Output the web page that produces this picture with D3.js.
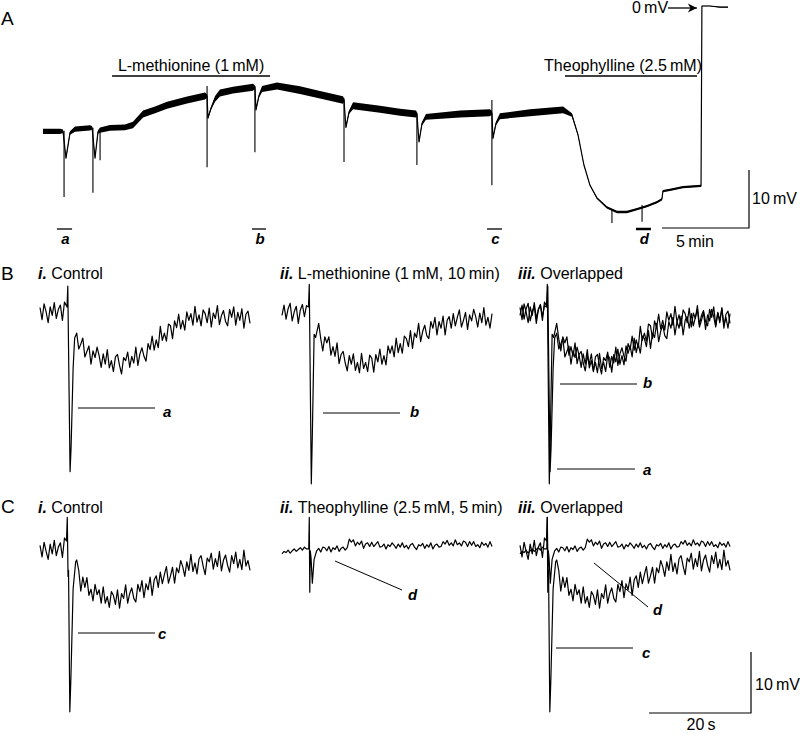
<!DOCTYPE html>
<html>
<head>
<meta charset="utf-8">
<script src="https://cdn.jsdelivr.net/npm/d3@7"></script>
<style>
  body { margin: 0; background: #fff; }
  text { font-family: "Liberation Sans", Arial, sans-serif; fill: #000; }
  .trace { fill: none; stroke: #000; stroke-width: 1.2; stroke-linejoin: round; }
  .bar { stroke: #000; stroke-width: 1.3; }
  .lab { font-weight: bold; font-style: italic; font-size: 15px; }
</style>
</head>
<body>
<svg id="fig" width="800" height="734"></svg>
<script>
'use strict';

// ---- panel A: continuous recording (t in min, membrane potential in mV, noise half-width in mV)
var aTrace = [
  [0, -21.6, 0.45], [0.98, -21.6, 0.45], [1.15, -21.6, 0.3], [1.32, -26.2, 0.2], [1.55, -21.9, 0.3],
  [1.84, -21.2, 0.45], [2.70, -21.0, 0.45], [2.82, -21.0, 0.3], [2.99, -26.2, 0.2], [3.16, -21.7, 0.3],
  [3.28, -21.4, 0.45], [3.85, -21.0, 0.5], [4.71, -20.9, 0.5], [5.17, -20.5, 0.55], [5.75, -18.6, 0.6],
  [6.44, -17.9, 0.6], [7.13, -17.1, 0.6], [8.28, -16.2, 0.6], [9.31, -15.5, 0.6], [9.43, -15.5, 0.3],
  [9.48, -19.3, 0.2], [9.66, -17.6, 0.3], [9.89, -16.0, 0.5], [10.17, -15.0, 0.6], [10.92, -14.5, 0.6],
  [12.07, -14.0, 0.6], [12.18, -14.0, 0.3], [12.24, -17.9, 0.2], [12.41, -15.5, 0.3], [12.59, -14.3, 0.5],
  [13.45, -13.8, 0.6], [14.77, -14.5, 0.65], [15.92, -15.3, 0.65], [17.24, -16.2, 0.65], [17.30, -16.2, 0.3],
  [17.41, -20.9, 0.2], [17.59, -18.3, 0.3], [17.82, -17.2, 0.6], [19.37, -17.8, 0.6], [20.52, -18.3, 0.6],
  [21.44, -18.6, 0.6], [21.49, -18.6, 0.3], [21.61, -23.4, 0.2], [21.78, -20.3, 0.3], [22.01, -19.1, 0.5],
  [23.97, -18.6, 0.6], [25.69, -18.4, 0.6], [25.80, -18.4, 0.3], [25.86, -22.8, 0.2], [26.03, -20.3, 0.3],
  [26.26, -19.0, 0.5], [27.99, -18.4, 0.6], [29.89, -17.9, 0.6], [30.40, -18.8, 0.3], [30.75, -22.2, 0.15],
  [31.09, -27.4, 0.1], [31.44, -30.9, 0.1], [31.84, -33.1, 0.15], [32.41, -34.7, 0.2], [32.99, -35.5, 0.2],
  [33.56, -35.5, 0.2], [34.14, -35.0, 0.2], [34.71, -34.5, 0.2], [35.29, -33.8, 0.2], [35.57, -33.3, 0.2],
  [35.63, -31.9, 0.2], [36.03, -31.7, 0.2], [36.78, -31.2, 0.2], [37.82, -31.0, 0.2], [37.87, 0, 0.05],
  [38.33, 0, 0.05], [38.91, -0.2, 0.05], [39.37, -0.2, 0.05]
];
// stimulus artefacts in A: [t, top mV, bottom mV]
var aArtefacts = [
  [1.21, -21.5, -32.9], [2.87, -21.0, -32.2], [3.28, -21.2, -26.6], [9.43, -13.8, -27.8],
  [12.18, -13.8, -25.2], [17.30, -15.9, -26.9], [21.49, -18.4, -27.4], [25.80, -16.2, -30.9],
  [32.70, -35.0, -37.4], [34.43, -34.3, -37.2]
];
var drugNames = ['L-methionine (1\u2009mM)', 'Theophylline (2.5\u2009mM)'];
var drugStart = [3.97, 30.0];
var drugEnd = [13.05, 37.59];
var sampleLabels = ['a', 'b', 'c', 'd'];
var sampleStart = [0.80, 12.01, 25.52, 34.08];
var sampleEnd = [1.67, 12.82, 26.38, 34.94];

// ---- panels B and C: single sweeps (t in s, mV relative to baseline), sampled every DT s
var DT = 0.4;
var aPre = [0.9, -1.1, 1.5, 0.2, -1.6, 1.0, -0.4, 1.7, -0.9, 0.6, 1.3, -1.2, 1.8];
var aStim = [[5.3, 1.0], [5.45, 4.4], [5.9, -26.0], [6.1, -22], [6.5, -9], [6.8, -4.1]];
var aPostStart = 7.2;
var aPost = [-3.3, -5.9, -5.1, -4.1, -7.2, -6.3, -5.4, -8.4, -6.2, -7.3, -5.6, -7.0, -8.9, -6.7, -8.4, -6.0,
  -9.0, -7.8, -9.6, -7.2, -6.8, -8.6, -10.0, -7.3, -7.8, -6.4, -8.9, -7.1, -8.2, -5.6, -8.6, -6.7, -5.7, -7.1,
  -7.9, -5.0, -6.0, -3.8, -6.1, -4.4, -5.7, -2.2, -4.5, -3.3, -4.6, -1.8, -2.1, -4.2, -1.3, -2.4, -0.2, -2.6,
  -1.2, -2.8, 0.2, -1.2, -0.1, -2.0, 1.1, -1.5, -0.3, -2.1, 0.5, -0.1, -1.6, 0.8, -2.3, 0.0, -0.9, 1.2, -1.9,
  -0.4, 0.4, -1.4, -2.1, 0.6, -0.7, 1.0, -2.0, 0.1, -1.2, 0.7, -2.5, -0.2, 0.3, -1.7];

var bPre = [-0.4, 1.3, -1.0, 0.7, 1.6, -1.3, 0.2, 1.1, -1.7, 0.5, 1.4, -0.6, 1.2];
var bStim = [[5.2, 1.0], [5.35, 4.7], [5.75, -28.0], [5.95, -20], [6.3, -3.5], [6.6, -4.0]];
var bPostStart = 7.2;
var bPost = [-1.7, -4.2, -6.2, -3.9, -4.9, -3.9, -6.9, -5.5, -7.1, -4.9, -8.3, -6.8, -6.3, -8.2, -9.5, -7.0,
  -8.4, -6.7, -9.4, -8.1, -9.8, -6.6, -9.1, -8.1, -9.6, -6.9, -7.4, -9.7, -6.8, -8.0, -5.9, -8.4, -7.0, -8.5,
  -5.4, -6.6, -5.4, -7.2, -4.1, -6.5, -5.0, -6.6, -3.8, -4.2, -5.5, -2.9, -5.8, -3.3, -4.0, -1.7, -4.7, -3.0,
  -2.0, -3.7, -4.2, -1.4, -2.5, -0.7, -3.6, -1.4, -2.5, -0.5, -3.6, -1.2, -0.6, -2.5, -0.1, -2.1, -0.7, 0.5,
  -2.3, -1.2, 0.1, -2.7, -0.3, -1.3, 0.6, -0.6, -2.3, 0.0, -1.6, 0.9, -2.0, -0.7, -2.5, -0.1];

var cPre = [1.1, -0.8, 1.6, 0.1, -1.2, 1.3, -0.3, 1.9, -0.6, 0.8, 1.5, -0.9, 2.3];
var cStim = [[5.2, 1.8], [5.35, 5.7], [5.5, -4], [5.6, -3], [5.85, -26.2], [6.05, -21], [6.5, -6], [7.0, -1.6]];
var cPostStart = 7.2;
var cPost = [-1.3, -3.0, -6.4, -4.1, -5.8, -4.2, -7.1, -6.1, -8.0, -5.3, -7.0, -6.2, -8.4, -5.7, -8.4, -7.3,
  -9.1, -6.5, -7.1, -8.6, -6.2, -9.2, -6.8, -7.6, -5.4, -8.4, -6.8, -5.9, -7.6, -8.2, -5.3, -6.5, -4.7, -7.5,
  -5.2, -6.2, -4.1, -7.1, -4.6, -3.9, -5.8, -3.3, -5.2, -3.7, -2.4, -5.1, -3.9, -2.5, -5.1, -2.6, -3.4, -1.4,
  -2.4, -4.0, -1.6, -3.0, -0.4, -3.2, -1.8, -3.6, -1.1, -0.6, -2.3, -3.7, -1.0, -1.6, -0.2, -2.8, -1.1, -2.4,
  0.1, -3.1, -1.3, -0.5, -2.2, -3.3, -0.6, -1.9, 0.0, -2.6, -1.2, -2.9, 0.3, -2.3, -1.4, -3.0];

var dPre = [-0.3, 0.1, -0.1, 0.3, -0.2, 0.2, 0.5, 0.1, 0.4, 0.7, 0.3, 0.8, 0.5];
var dStim = [[5.25, 0.5], [5.35, 5.7], [5.45, -6.6], [5.55, 0.2], [5.7, -1], [5.95, -5.1], [6.3, -1.2], [6.8, 0.2]];
var dPostStart = 7.2;
var dPost = [0.6, 0.0, 0.8, 0.7, 0.2, 0.9, 0.0, 0.7, 0.4, 1.0, 0.1, 0.6, 0.8, 0.3, 0.7, 2.1, 1.6, 2.0, 1.0,
  1.6, 1.2, 1.8, 0.6, 1.3, 1.5, 0.9, 1.6, 0.9, 1.3, 1.7, 0.8, 0.9, 1.3, 0.5, 1.2, 0.9, 1.5, 1.1, 0.6, 1.3,
  0.8, 1.5, 0.7, 1.1, 0.5, 1.2, 1.4, 0.8, 0.4, 1.2, 1.0, 1.4, 0.6, 1.2, 0.8, 1.5, 0.5, 1.1, 1.3, 0.8, 0.9,
  1.7, 1.3, 1.9, 1.1, 1.5, 1.0, 2.0, 1.2, 1.5, 1.0, 1.8, 1.6, 0.9, 1.7, 1.1, 1.7, 0.9, 1.2, 0.7, 1.6, 1.1,
  1.4, 0.8, 1.7, 0.9];


function buildTrace(pre, stim, post, postStart) {
    var pts = pre.map(function(v, i) { return [i * DT, v]; });
    stim.forEach(function(p) { pts.push(p); });
    post.forEach(function(v, i) { pts.push([postStart + i * DT, v]); });
    return pts;
}

var traces = {
    a: buildTrace(aPre, aStim, aPost, aPostStart),
    b: buildTrace(bPre, bStim, bPost, bPostStart),
    c: buildTrace(cPre, cStim, cPost, cPostStart),
    d: buildTrace(dPre, dStim, dPost, dPostStart)
};

var svg = d3.select('#fig');

// ================= A =================
var xA = d3.scaleLinear().domain([0, 39.37]).range([43, 728]);
var yA = d3.scaleLinear().domain([-35.5, 0]).range([212, 6]);

svg.append('text').attr('x', 1).attr('y', 25).style('font-size', '19px').text('A');

var bandA = d3.area()
    .x(function(d) { return xA(d[0]); })
    .y0(function(d) { return yA(d[1] - d[2]); })
    .y1(function(d) { return yA(d[1] + d[2]); });
var lineA = d3.line()
    .x(function(d) { return xA(d[0]); })
    .y(function(d) { return yA(d[1]); });

svg.append('path').datum(aTrace).attr('d', bandA).attr('fill', '#000');
svg.append('path').datum(aTrace).attr('class', 'trace').attr('d', lineA);

svg.append('g').selectAll('line').data(aArtefacts).enter().append('line')
    .attr('x1', function(d) { return xA(d[0]); })
    .attr('x2', function(d) { return xA(d[0]); })
    .attr('y1', function(d) { return yA(d[1]); })
    .attr('y2', function(d) { return yA(d[2]); })
    .attr('stroke', '#000').attr('stroke-width', 1.1);

// drug application bars
drugNames.forEach(function(name, i) {
    svg.append('line').attr('class', 'bar')
        .attr('x1', xA(drugStart[i])).attr('x2', xA(drugEnd[i]))
        .attr('y1', 76).attr('y2', 76);
    var t = svg.append('text').attr('y', 71).style('font-size', '16px').text(name);
    if (i === 0) {
        t.attr('x', (xA(drugStart[i]) + xA(drugEnd[i])) / 2).attr('text-anchor', 'middle');
    } else {
        t.attr('x', xA(drugEnd[i]) + 5).attr('text-anchor', 'end');
    }
});

// sample windows a-d
sampleLabels.forEach(function(lab, i) {
    svg.append('line')
        .attr('x1', xA(sampleStart[i])).attr('x2', xA(sampleEnd[i]))
        .attr('y1', 229).attr('y2', 229)
        .attr('stroke', '#000').attr('stroke-width', lab === 'd' ? 2.5 : 1.3);
    svg.append('text').attr('class', 'lab')
        .attr('x', (xA(sampleStart[i]) + xA(sampleEnd[i])) / 2 + 1).attr('y', 244)
        .attr('text-anchor', 'middle').text(lab);
});

// 0 mV marker
svg.append('defs').append('marker')
    .attr('id', 'arr').attr('viewBox', '0 0 10 10').attr('refX', 10).attr('refY', 5)
    .attr('markerWidth', 9).attr('markerHeight', 7).attr('orient', 'auto')
    .append('path').attr('d', 'M0,0 L10,5 L0,10 L3,5 Z').attr('fill', '#000');
svg.append('text').attr('x', 632).attr('y', 13).style('font-size', '16px').text('0\u2009mV');
svg.append('line').attr('x1', 668).attr('x2', xA(37.87) - 5).attr('y1', yA(0) + 2).attr('y2', yA(0) + 2)
    .attr('stroke', '#000').attr('stroke-width', 1.3).attr('marker-end', 'url(#arr)');

// scale bar A: 10 mV, 5 min
var sbAx = 749, sbAy = 228;
svg.append('path').attr('class', 'trace')
    .attr('d', 'M' + (sbAx - (xA(5) - xA(0))) + ',' + sbAy + 'H' + sbAx + 'V' + (sbAy - (yA(0) - yA(10))));
svg.append('text').attr('x', 752).attr('y', 204).style('font-size', '16px').text('10\u2009mV');
svg.append('text').attr('x', 695).attr('y', 247).attr('text-anchor', 'middle')
    .style('font-size', '16px').text('5\u2009min');

// ================= B and C =================
var xS = d3.scaleLinear().domain([0, 41]).range([0, 209]);
var yS = d3.scaleLinear().domain([-10, 0]).range([61, 0]);
var lineS = d3.line()
    .x(function(d) { return xS(d[0]); })
    .y(function(d) { return yS(d[1]); });

var colX = [40, 282, 520];
var rows = [
    { letter: 'B', ly: 280, ty: 279, y0: 313,
      panels: [['a'], ['b'], ['a', 'b']],
      titles: [['i.', 'Control'], ['ii.', 'L-methionine (1\u2009mM, 10\u2009min)'], ['iii.', 'Overlapped']] },
    { letter: 'C', ly: 513, ty: 513, y0: 552,
      panels: [['c'], ['d'], ['d', 'c']],
      titles: [['i.', 'Control'], ['ii.', 'Theophylline (2.5\u2009mM, 5\u2009min)'], ['iii.', 'Overlapped']] }
];

rows.forEach(function(row) {
    svg.append('text').attr('x', 1).attr('y', row.ly).style('font-size', '19px').text(row.letter);
    row.panels.forEach(function(keys, j) {
        var g = svg.append('g').attr('transform', 'translate(' + colX[j] + ',' + row.y0 + ')');
        keys.forEach(function(k) {
            g.append('path').datum(traces[k]).attr('class', 'trace').attr('d', lineS);
        });
        var tt = svg.append('text').attr('x', colX[j] - 2).attr('y', row.ty).style('font-size', '16px');
        tt.append('tspan').style('font-weight', 'bold').style('font-style', 'italic').text(row.titles[j][0]);
        tt.append('tspan').text('\u00a0' + row.titles[j][1]);
    });
});

// pointer lines to the sweeps
var pointers = [
    [78, 408, 155, 408, 'a', 163, 417],
    [323, 413, 400, 413, 'b', 410, 417],
    [560, 384, 637, 384, 'b', 643, 388],
    [557, 469, 635, 469, 'a', 643, 475],
    [78, 633, 155, 633, 'c', 158, 639],
    [335, 561, 402, 590, 'd', 408, 600],
    [594, 563, 648, 607, 'd', 653, 615],
    [556, 648, 633, 648, 'c', 642, 658]
];
pointers.forEach(function(p) {
    svg.append('line').attr('x1', p[0]).attr('y1', p[1]).attr('x2', p[2]).attr('y2', p[3])
        .attr('stroke', '#000').attr('stroke-width', 1);
    svg.append('text').attr('class', 'lab').attr('x', p[5]).attr('y', p[6]).text(p[4]);
});

// scale bar B/C: 10 mV, 20 s
var sbX = 751, sbY = 713;
svg.append('path').attr('class', 'trace')
    .attr('d', 'M' + (sbX - xS(20)) + ',' + sbY + 'H' + sbX + 'V' + (sbY - (yS(0) - yS(10))));
svg.append('text').attr('x', 755).attr('y', 690).style('font-size', '16px').text('10\u2009mV');
svg.append('text').attr('x', 701).attr('y', 730).attr('text-anchor', 'middle')
    .style('font-size', '16px').text('20\u2009s');
</script>
</body>
</html>
